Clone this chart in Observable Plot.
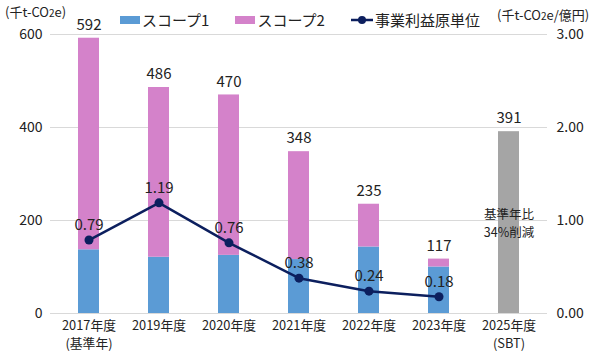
<!DOCTYPE html>
<html><head><meta charset="utf-8">
<script src="https://cdn.jsdelivr.net/npm/d3@7"></script>
<script src="https://cdn.jsdelivr.net/npm/@observablehq/plot@0.6"></script>
<style>
body{margin:0;background:#fff;font-family:"Noto Sans CJK JP","Noto Sans",sans-serif;color:#222;}
#wrap{position:relative;width:593px;height:353px;}
.unit{position:absolute;font-size:13px;line-height:1;white-space:nowrap;}
.legend{position:absolute;top:12px;left:120px;display:flex;align-items:center;font-size:15px;line-height:1;white-space:nowrap;}
.legend .item{display:flex;align-items:center;margin-right:26px;}
.sw{display:inline-block;width:20px;height:8px;margin-right:2px;}
svg{position:absolute;left:0;top:0;}
</style>
</head><body>
<div id="wrap"></div>
<script>
const years = ["2017年度\n(基準年)","2019年度","2020年度","2021年度","2022年度","2023年度","2025年度\n(SBT)"];
const seriesNames = ["スコープ1","スコープ2"];
const scope1 = [137,121,125,116,143,100];
const scope2 = [455,365,345,232,92,17];
const totals = [592,486,470,348,235,117,391];
const intensity = [0.79,1.19,0.76,0.38,0.24,0.18];
const intensityName = "事業利益原単位";
const targetNote = "基準年比\n34%削減";
const leftTicks = [0,200,400,600];
const rightTicks = [0,1,2,3];
const leftUnit = "(千t-CO<span style='font-size:10px'>2</span>e)";
const rightUnit = "(千t-CO<span style='font-size:10px'>2</span>e/億円)";

const colors = {"スコープ1":"#5B9BD5","スコープ2":"#D482CA"};
const gray = "#A5A5A5";
const navy = "#0C1F5E";
const ratio = 200; // right axis 1.00 = left axis 200

const stackRows = [];
scope1.forEach((v,i)=>stackRows.push({year:years[i],series:seriesNames[0],value:v}));
scope2.forEach((v,i)=>stackRows.push({year:years[i],series:seriesNames[1],value:v}));
const totalRows = totals.map((t,i)=>({year:years[i],total:t}));
const targetRows = [{year:years[6],total:totals[6]}];
const lineRows = intensity.map((v,i)=>({year:years[i],v}));

const chart = Plot.plot({
  width:593, height:353,
  marginLeft:50, marginRight:46, marginTop:34, marginBottom:40,
  style:{fontFamily:'"Noto Sans CJK JP","Noto Sans",sans-serif', fontSize:"14px", color:"#222", background:"transparent"},
  x:{domain:years, paddingInner:0.7, paddingOuter:0.36, label:null},
  y:{domain:[0,600], label:null},
  color:{domain:seriesNames, range:seriesNames.map(s=>colors[s])},
  marks:[
    Plot.gridY(leftTicks,{stroke:"#d9d9d9", strokeOpacity:1, strokeWidth:1}),
    Plot.barY(stackRows, Plot.stackY({x:"year", y:"value", fill:"series", order:seriesNames})),
    Plot.barY(targetRows, {x:"year", y:"total", fill:gray}),
    Plot.text(totalRows, {x:"year", y:"total", text:d=>String(d.total), dy:-13, fontSize:15, fill:"#222"}),
    Plot.text(targetRows, {x:"year", y:d=>d.total/2, text:()=>targetNote, fontSize:12.5, lineHeight:1.45, fill:"#222"}),
    Plot.lineY(lineRows, {x:"year", y:d=>d.v*ratio, stroke:navy, strokeWidth:2.5}),
    Plot.dot(lineRows, {x:"year", y:d=>d.v*ratio, fill:navy, r:4.5}),
    Plot.text(lineRows, {x:"year", y:d=>d.v*ratio, text:d=>d.v.toFixed(2), dy:-15, fontSize:15, fill:"#222"}),
    Plot.axisY({ticks:leftTicks, tickSize:0, tickPadding:8, fontSize:14, label:null}),
    Plot.axisY({anchor:"right", ticks:rightTicks.map(t=>t*ratio), tickFormat:d=>(d/ratio).toFixed(2), tickSize:0, tickPadding:9, fontSize:14, label:null}),
    Plot.axisX({tickSize:0, tickPadding:3, fontSize:12.8, lineHeight:1.45, label:null}),
    Plot.ruleY([0],{stroke:"#d9d9d9"})
  ]
});
const wrap = document.getElementById("wrap");
wrap.appendChild(chart);

const u1 = document.createElement("div"); u1.className="unit"; u1.style.left="5px"; u1.style.top="5px"; u1.innerHTML=leftUnit; wrap.appendChild(u1);
const u2 = document.createElement("div"); u2.className="unit"; u2.style.left="497px"; u2.style.top="8px"; u2.innerHTML=rightUnit; wrap.appendChild(u2);

const lg = document.createElement("div"); lg.className="legend";
seriesNames.forEach(s=>{
  const it=document.createElement("div"); it.className="item";
  it.innerHTML=`<span class="sw" style="background:${colors[s]}"></span>${s}`;
  lg.appendChild(it);
});
const it=document.createElement("div"); it.className="item";
it.innerHTML=`<svg width="22" height="10" style="position:static;margin-right:2px"><line x1="0" x2="22" y1="5" y2="5" stroke="${navy}" stroke-width="2.5"/><circle cx="11" cy="5" r="4" fill="${navy}"/></svg>${intensityName}`;
lg.appendChild(it);
wrap.appendChild(lg);
</script>
</body></html>
